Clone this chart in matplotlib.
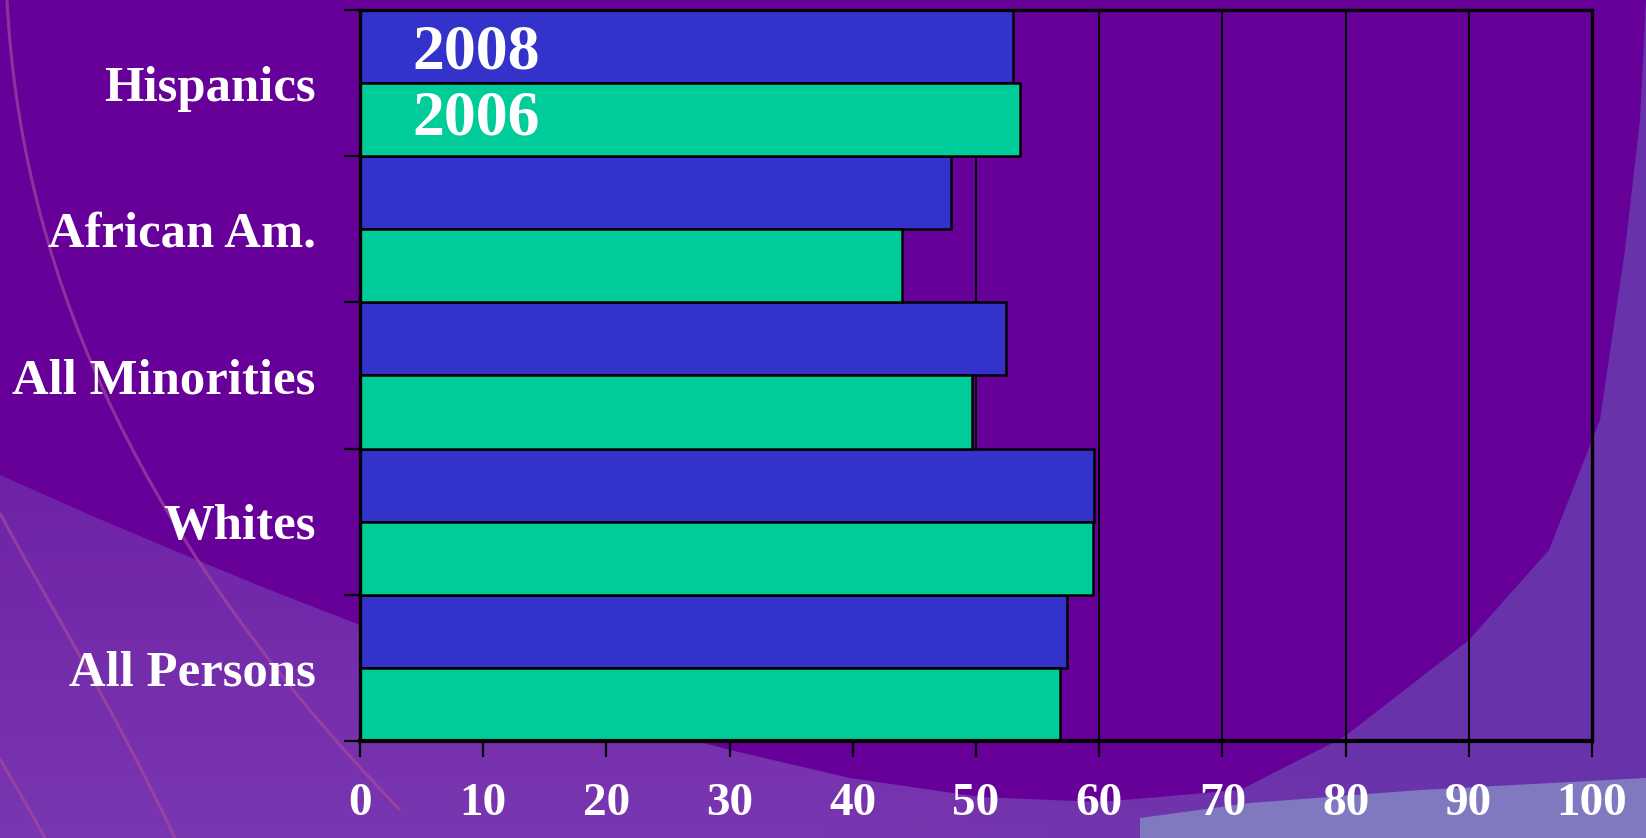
import numpy as np
import matplotlib
matplotlib.use("Agg")
import matplotlib.pyplot as plt
from matplotlib.patches import Polygon
from matplotlib.path import Path
import matplotlib.patches as mpatches

categories = ["Hispanics", "African Am.", "All Minorities", "Whites", "All Persons"]
values_2008 = [53.0, 48.0, 52.4, 59.6, 57.4]
values_2006 = [53.6, 44.0, 49.7, 59.5, 56.8]
series_labels = ["2008", "2006"]
xticks = [0, 10, 20, 30, 40, 50, 60, 70, 80, 90, 100]

W, H = 1646, 838
fig = plt.figure(figsize=(W / 100, H / 100), dpi=100)

# ---- decorative background ----
bg = fig.add_axes([0, 0, 1, 1], zorder=0)
bg.set_xlim(0, W)
bg.set_ylim(H, 0)
bg.axis("off")
gx = np.linspace(0, 1, 200)
gy = np.linspace(0, 1, 100)
GX, GY = np.meshgrid(gx, gy)
c_left = np.array([0x6e, 0x22, 0xa6]) / 255
c_left_low = np.array([0x7a, 0x36, 0xb0]) / 255
c_right = np.array([0x68, 0x33, 0xaa]) / 255
ty = np.clip((GY - 0.55) / 0.45, 0, 1)[..., None]
cl = c_left * (1 - ty) + c_left_low * ty
t = np.clip((GX - 0.5) / 0.4, 0, 1)[..., None]
img = cl * (1 - t) + c_right * t
bg.imshow(img, extent=[0, W, H, 0], aspect="auto", zorder=0)

dark = "#660099"
pts = [(0, 0), (1646, 0), (1640, 120), (1625, 250), (1600, 420), (1549, 550),
       (1469, 640), (1344, 737), (1240, 790), (1100, 802), (980, 797),
       (850, 778), (730, 750), (560, 705), (450, 668), (360, 625), (270, 590),
       (187, 556), (90, 515), (0, 475)]
bg.add_patch(Polygon(pts, closed=True, facecolor=dark, edgecolor="none", zorder=1))
# lighter lavender band along the bottom right
bg.add_patch(Polygon([(1140, 838), (1646, 838), (1646, 778), (1420, 790),
                      (1250, 803), (1140, 818)],
                     closed=True, facecolor="#8079c0", edgecolor="none", zorder=1))
# thin pinkish arcs on the left
arcs = [
    [(7, 0), (20, 250), (120, 520), (400, 810)],
    [(0, 513), (40, 590), (110, 700), (175, 838)],
    [(0, 759), (15, 785), (30, 810), (45, 838)],
]
for a in arcs:
    path = Path(a, [Path.MOVETO, Path.CURVE4, Path.CURVE4, Path.CURVE4])
    bg.add_patch(mpatches.PathPatch(path, facecolor="none", edgecolor="#a84a9e",
                                    lw=2.2, alpha=0.65, zorder=2))

# ---- chart ----
left, right = 360 / W, 1592 / W
top, bottom = 1 - 10 / H, 1 - 741 / H
ax = fig.add_axes([left, bottom, right - left, top - bottom], zorder=2)
ax.patch.set_alpha(0)

n = len(categories)
ypos = np.arange(n)[::-1]  # Hispanics at top
h = 0.5
ax.barh(ypos + h / 2, values_2008, height=h, color="#3333CC", edgecolor="black",
        linewidth=1.8, zorder=3)
ax.barh(ypos - h / 2, values_2006, height=h, color="#00CC99", edgecolor="black",
        linewidth=1.8, zorder=3)

ax.set_xlim(0, 100)
ax.set_ylim(-0.5, n - 0.5)

for xv in xticks[1:-1]:
    ax.axvline(xv, color="black", lw=1.5, zorder=1)

ax.set_xticks(xticks)
ax.set_xticklabels([str(v) for v in xticks])
ax.set_yticks(np.arange(n + 1) - 0.5)
ax.set_yticklabels([])
ax.set_yticks(ypos, minor=True)
ax.set_yticklabels(categories, minor=True)

serif = ["Liberation Serif", "DejaVu Serif"]
ax.tick_params(axis="x", which="major", direction="out", length=11.5, width=1.6,
               color="black", pad=18.5, labelsize=34, labelcolor="white")
ax.tick_params(axis="y", which="major", direction="out", length=11.5, width=1.6,
               color="black")
ax.tick_params(axis="y", which="minor", length=0, pad=32, labelsize=36.5,
               labelcolor="white")
for lab in ax.get_xticklabels() + ax.get_yticklabels(minor=True):
    lab.set_family(serif)
    lab.set_fontweight("bold")

for sp in ax.spines.values():
    sp.set_color("black")
    sp.set_linewidth(2.4)
    sp.set_zorder(4)
ax.spines["bottom"].set_linewidth(3.0)

# series labels inside the Hispanics bars
ax.text(9.4, ypos[0] + h / 2 - 0.05, series_labels[0], color="white", fontsize=46,
        fontweight="bold", family=serif, ha="center", va="center", zorder=5)
ax.text(9.4, ypos[0] - h / 2, series_labels[1], color="white", fontsize=46,
        fontweight="bold", family=serif, ha="center", va="center", zorder=5)

fig.savefig("out.png", dpi=100)
